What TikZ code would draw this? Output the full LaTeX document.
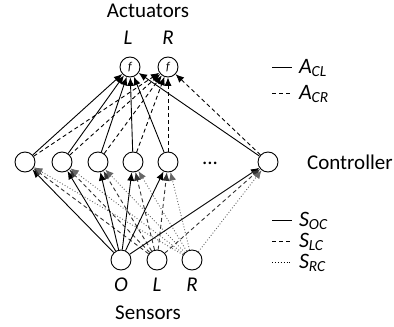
\documentclass[tikz,border=0pt]{standalone}
\usepackage{fontspec}
\setmainfont{Carlito}
\usetikzlibrary{arrows.meta}

\tikzset{
  unit/.style={draw, circle, minimum size=10pt, inner sep=0pt, line width=0.45pt},
  link/.style={line width=0.45pt, -{Latex[length=4.2pt,width=3.6pt]}},
  dsh/.style={dash pattern=on 2pt off 1.5pt},
  leg/.style={line width=0.45pt},
  lbl/.style={font=\fontsize{10.5}{12}\selectfont\itshape},
  legtext/.style={anchor=west, inner sep=0.3pt, font=\fontsize{11}{12}\selectfont}
}

\begin{document}
\begin{tikzpicture}[x=0.5pt, y=-0.5pt, font=\fontsize{10.5}{12}\selectfont]
  \useasboundingbox (0,0) rectangle (394,326);

  % actuators
  \node at (148,11) {Actuators};
  \node[unit] (aL) at (130,67) {\fontsize{6}{6}\selectfont\itshape f};
  \node[unit] (aR) at (168,67) {\fontsize{6}{6}\selectfont\itshape f};
  \node[lbl] at (128,38) {L};
  \node[lbl] at (168,38) {R};

  % controllers
  \node[unit] (c1) at (25,162) {};
  \node[unit] (c2) at (62,162) {};
  \node[unit] (c3) at (98,162) {};
  \node[unit] (c4) at (133,162) {};
  \node[unit] (c5) at (168,162) {};
  \node[unit] (c6) at (268,162) {};
  \node at (210,163) {...};
  \node[anchor=west] at (300,162) {Controller};

  % sensors
  \node[unit] (sO) at (121,260) {};
  \node[unit] (sL) at (157,260) {};
  \node[unit] (sR) at (192,260) {};
  \node[lbl] at (121,285) {O};
  \node[lbl] at (157,285) {L};
  \node[lbl] at (192,285) {R};
  \node at (148,313) {Sensors};

  % controller -> actuator
  \foreach \c in {c1,c2,c3,c4,c5,c6} {
    \draw[link] (\c) -- (aL);
    \draw[link, dsh] (\c) -- (aR);
  }

  % sensor -> controller
  \foreach \c in {c1,c2,c3,c4,c5,c6} {
    \draw[link] (sO) -- (\c);
    \draw[link, dsh, black!80] (sL) -- (\c);
    \draw[link, densely dotted, black!60] (sR) -- (\c);
  }

  % legend
  \draw[leg] (272,67) -- (292,67);
  \node[legtext] at (298,68) {\textit{A}\textsubscript{\textit{CL}}};
  \draw[leg, dsh] (272,93) -- (292,93);
  \node[legtext] at (298,94) {\textit{A}\textsubscript{\textit{CR}}};
  \draw[leg] (272,220) -- (292,220);
  \node[legtext] at (298,221) {\textit{S}\textsubscript{\textit{OC}}};
  \draw[leg, dsh] (272,241) -- (292,241);
  \node[legtext] at (298,242) {\textit{S}\textsubscript{\textit{LC}}};
  \draw[leg, densely dotted] (272,262) -- (292,262);
  \node[legtext] at (298,263) {\textit{S}\textsubscript{\textit{RC}}};
\end{tikzpicture}
\end{document}
